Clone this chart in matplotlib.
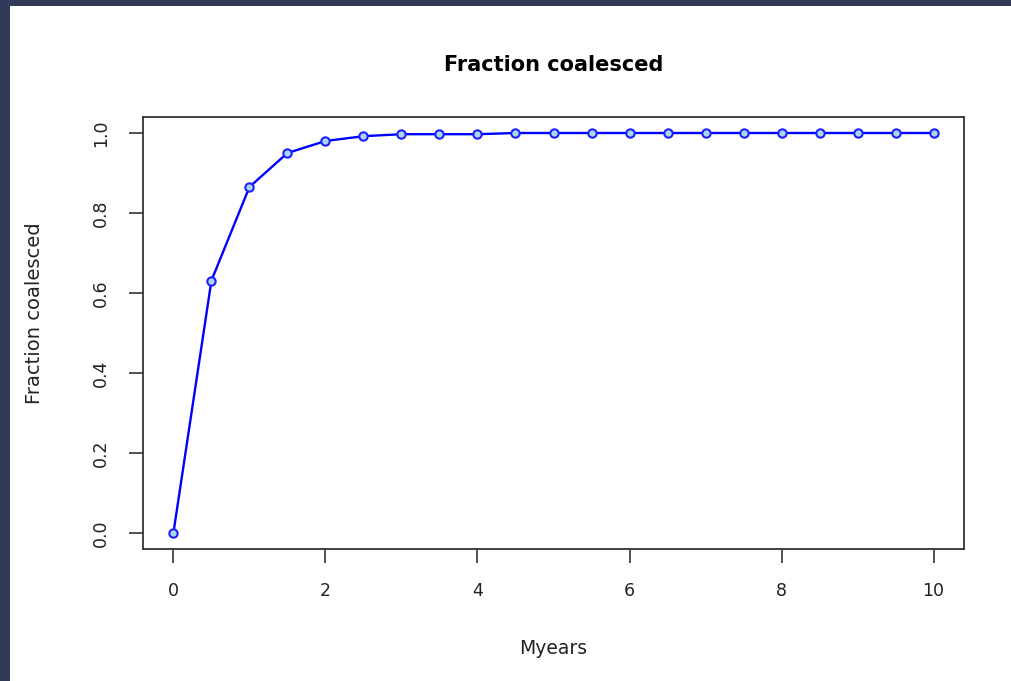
import matplotlib
matplotlib.use("Agg")
import matplotlib.pyplot as plt
from matplotlib.patches import Rectangle

# Fraction of lineages coalesced over time
myears = [0, 0.5, 1, 1.5, 2, 2.5, 3, 3.5, 4, 4.5, 5, 5.5, 6, 6.5, 7, 7.5, 8, 8.5, 9, 9.5, 10]
fraction = [0.0, 0.631, 0.865, 0.95, 0.98, 0.992, 0.997, 0.997, 0.997, 1.0, 1.0,
            1.0, 1.0, 1.0, 1.0, 1.0, 1.0, 1.0, 1.0, 1.0, 1.0]
xticks = [0, 2, 4, 6, 8, 10]
yticks = [0.0, 0.2, 0.4, 0.6, 0.8, 1.0]

plt.rcParams['font.family'] = ['DejaVu Sans']

fig = plt.figure(figsize=(10.11, 6.81), dpi=100)
fig.patch.set_facecolor('#313a58')
# white page inside the dark frame
fig.patches.append(Rectangle((10/1011, 0), 1, (681-6)/681, transform=fig.transFigure,
                             facecolor='white', edgecolor='none', zorder=-10))

ax = fig.add_axes([143/1011, 1-549/681, (964-143)/1011, (549-117)/681])
ax.plot(myears, fraction, color='#0000ff', lw=1.7, marker='o', ms=6,
        mfc='#a8d8f0', mec='#2020ff', mew=1.5)

ax.set_xlim(-0.4, 10.4)
ax.set_ylim(-0.04, 1.04)
ax.set_xticks(xticks)
ax.set_xticklabels([str(v) for v in xticks])
ax.set_yticks(yticks)
ax.set_yticklabels(["%.1f" % v for v in yticks], rotation=90, va='center')

ax.tick_params(axis='both', direction='out', length=10, width=1.2, color='#333333',
               labelsize=12.5, labelcolor='#222222')
ax.tick_params(axis='x', pad=14)
ax.tick_params(axis='y', pad=14)
for s in ax.spines.values():
    s.set_color('#333333')
    s.set_linewidth(1.3)

ax.set_title("Fraction coalesced", fontsize=15, fontweight='bold', pad=33)
ax.set_xlabel("Myears", fontsize=13.5, labelpad=28, color='#222222')
ax.set_ylabel("Fraction coalesced", fontsize=14, color='#222222')
ax.yaxis.set_label_coords(-0.121, 0.546)

fig.savefig("out.png", dpi=100, facecolor=fig.get_facecolor())
